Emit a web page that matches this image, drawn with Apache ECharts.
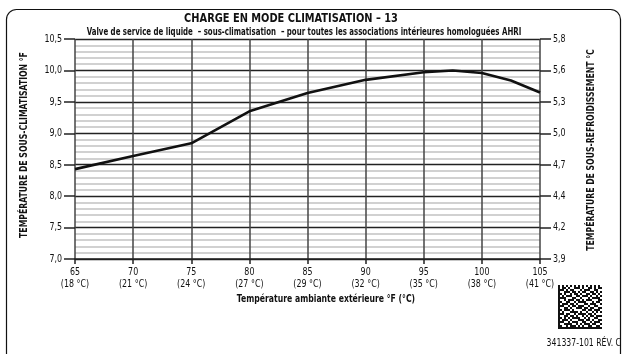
<!DOCTYPE html>
<html>
<head>
<meta charset="utf-8">
<script src="https://cdn.jsdelivr.net/npm/echarts@6/dist/echarts.min.js"></script>
<style>
  html, body { margin: 0; padding: 0; background: #fff; }
  #chart { width: 626px; height: 354px; }
</style>
</head>
<body>
<div id="chart"></div>
<script>
// Outdoor ambient temperature (°F) and the matching °C captions
const ambientF = [65, 70, 75, 80, 85, 90, 95, 97.5, 100, 102.5, 105];
const xTickF = [65, 70, 75, 80, 85, 90, 95, 100, 105];
const xTickC = ['18 °C', '21 °C', '24 °C', '27 °C', '29 °C', '32 °C', '35 °C', '38 °C', '41 °C'];
// Target subcooling (°F) at each ambient temperature
const subcoolF = [8.43, 8.64, 8.84, 9.35, 9.64, 9.85, 9.97, 10.0, 9.96, 9.84, 9.65];
// Left axis ticks (°F) and the right-hand °C equivalents
const yTickVal = [7.0, 7.5, 8.0, 8.5, 9.0, 9.5, 10.0, 10.5];
const yTickF = ['7,0', '7,5', '8,0', '8,5', '9,0', '9,5', '10,0', '10,5'];
const yTickC = ['3,9', '4,2', '4,4', '4,7', '5,0', '5,3', '5,6', '5,8'];

const FONT = "'DejaVu Sans Condensed', 'Liberation Sans', sans-serif";
// horizontal squeeze giving the narrow lettering of the printed sheet
const NARROW = 0.78;

// 22x22 data-matrix style tag printed beside the part number
const tagRows = [
  '1010101010101010101010',
  '1011010011101001101011',
  '1110101100010111001100',
  '1001110110101100110101',
  '1101001011010011011010',
  '1010111001101110100101',
  '1111000110010001011110',
  '1001011101101011100011',
  '1100110010111100010110',
  '1011101101000110111001',
  '1110010110111001001100',
  '1001101001110110110011',
  '1101110100001101101110',
  '1010001111010010010101',
  '1110110010111101101000',
  '1001101101001010110111',
  '1101010111100101001100',
  '1011101000111011010011',
  '1110010111001100101110',
  '1001111001010111011001',
  '1100101110101001100110',
  '1111111111111111111111'
];

function tagGraphics(x0, y0, cell) {
  const out = [];
  tagRows.forEach((row, r) => {
    for (let c = 0; c < row.length; c++) {
      if (row[c] === '1') {
        out.push({
          type: 'rect',
          shape: { x: x0 + c * cell, y: y0 + r * cell, width: cell, height: cell },
          style: { fill: '#111' },
          silent: true
        });
      }
    }
  });
  return out;
}

// Narrow text element anchored at (x, y)
function label(x, y, text, size, opts) {
  opts = opts || {};
  return {
    type: 'text',
    x: x, y: y,
    rotation: opts.rotation || 0,
    scaleX: opts.scale || NARROW,
    silent: true,
    z: 10,
    style: {
      text: text,
      x: 0, y: 0,
      align: opts.align || 'center',
      verticalAlign: opts.valign || 'middle',
      font: (opts.bold ? 'bold ' : '') + size + 'px ' + FONT,
      fill: '#111'
    }
  };
}

const chart = echarts.init(document.getElementById('chart'), null, { renderer: 'canvas' });

const option = {
  backgroundColor: '#fff',
  animation: false,
  grid: { left: 75, right: 86, top: 39, bottom: 95 },
  xAxis: {
    type: 'value',
    min: 65, max: 105, interval: 5,
    axisLine: { show: true, lineStyle: { color: '#222', width: 1.5 } },
    axisTick: { show: true, length: 5, lineStyle: { color: '#222', width: 1.5 } },
    axisLabel: { show: false },
    splitLine: { show: true, lineStyle: { color: '#444', width: 1.5 } }
  },
  yAxis: [
    {
      type: 'value',
      min: 7, max: 10.5, interval: 0.5,
      axisLine: { show: false },
      axisTick: { show: true, length: 11, lineStyle: { color: '#222', width: 1.5 } },
      axisLabel: { show: false },
      splitLine: { show: true, lineStyle: { color: '#222', width: 1.3 } },
      minorTick: { show: false, splitNumber: 5 },
      minorSplitLine: { show: true, lineStyle: { color: '#c2c2c2', width: 1.5 } }
    },
    {
      type: 'value',
      min: 7, max: 10.5, interval: 0.5,
      position: 'right',
      axisLine: { show: false },
      axisTick: { show: true, length: 11, lineStyle: { color: '#222', width: 1.5 } },
      axisLabel: { show: false },
      splitLine: { show: false }
    }
  ],
  series: [
    {
      type: 'line',
      data: ambientF.map((x, i) => [x, subcoolF[i]]),
      symbol: 'none',
      smooth: false,
      lineStyle: { color: '#111', width: 2.6 },
      z: 5
    }
  ]
};

chart.setOption(option);

// Texts placed from the axes' own pixel mapping
const gLeft = chart.convertToPixel({ xAxisIndex: 0 }, 65);
const gRight = chart.convertToPixel({ xAxisIndex: 0 }, 105);
const gTop = chart.convertToPixel({ yAxisIndex: 0 }, 10.5);
const gBottom = chart.convertToPixel({ yAxisIndex: 0 }, 7);
const gMidY = (gTop + gBottom) / 2;

const texts = [];
xTickF.forEach((v, i) => {
  const px = chart.convertToPixel({ xAxisIndex: 0 }, v);
  texts.push(label(px, gBottom + 13, String(v), 11, { scale: 0.8 }));
  texts.push(label(px, gBottom + 25, '(' + xTickC[i] + ')', 11, { scale: 0.8 }));
});
yTickVal.forEach((v, i) => {
  const py = chart.convertToPixel({ yAxisIndex: 0 }, v);
  texts.push(label(gLeft - 13, py, yTickF[i], 11, { align: 'right', scale: 0.8 }));
  texts.push(label(gRight + 13, py, yTickC[i], 11, { align: 'left', scale: 0.8 }));
});

texts.push(label(291, 19, 'CHARGE EN MODE CLIMATISATION – 13', 13, { bold: true, scale: 0.84 }));
texts.push(label(304, 32,
  'Valve de service de liquide  – sous-climatisation  – pour toutes les associations intérieures homologuées AHRI',
  10, { bold: true }));
texts.push(label(326, gBottom + 40, 'Température ambiante extérieure °F (°C)', 11, { bold: true }));
texts.push(label(24, gMidY - 4, 'TEMPÉRATURE DE SOUS-CLIMATISATION °F', 11,
  { bold: true, rotation: Math.PI / 2 }));
texts.push(label(591, gMidY + 1, 'TEMPÉRATURE DE SOUS-REFROIDISSEMENT °C', 11,
  { bold: true, rotation: Math.PI / 2 }));
texts.push(label(621, 343, '341337-101 RÉV. C', 10.5, { align: 'right', scale: 0.82 }));

chart.setOption({
  graphic: [
    {
      type: 'rect',
      shape: { x: 6.5, y: 9.5, width: 614, height: 360, r: 10 },
      style: { fill: 'none', stroke: '#111', lineWidth: 1.2 },
      silent: true, z: -1
    },
    ...texts,
    ...tagGraphics(558, 285, 2)
  ]
});
</script>
</body>
</html>
